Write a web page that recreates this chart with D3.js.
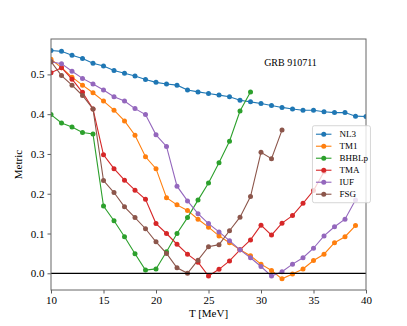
<!DOCTYPE html>
<html>
<head>
<meta charset="utf-8">
<script src="https://cdn.jsdelivr.net/npm/d3@7"></script>
<style>
    body { margin: 0; background: #fff; }
    svg { display: block; font-family: "Liberation Serif", "DejaVu Serif", serif; }
</style>
</head>
<body>
<div id="chart"></div>
<script>
const T_START = 10;
const xTicks = [10, 15, 20, 25, 30, 35, 40];
const yTicks = [0.0, 0.1, 0.2, 0.3, 0.4, 0.5];

const seriesNames = ["NL3", "TM1", "BHBLp", "TMA", "IUF", "FSG"];
const nl3 = [0.560, 0.558, 0.548, 0.540, 0.528, 0.521, 0.510, 0.503, 0.496, 0.487, 0.480, 0.476, 0.473, 0.461, 0.456, 0.452,
    0.448, 0.444, 0.435, 0.431, 0.427, 0.422, 0.417, 0.413, 0.410, 0.410, 0.406, 0.404, 0.404, 0.395, 0.394];
const tm1 = [0.538, 0.517, 0.493, 0.473, 0.454, 0.433, 0.410, 0.383, 0.347, 0.293, 0.263, 0.190, 0.172, 0.158, 0.136,
    0.116, 0.094, 0.077, 0.059, 0.044, 0.023, 0.007, -0.014, -0.002, 0.011, 0.032, 0.048, 0.077, 0.092, 0.120];
const bhblp = [0.399, 0.378, 0.368, 0.354, 0.350, 0.169, 0.132, 0.092, 0.049, 0.008, 0.011, 0.054, 0.100, 0.140, 0.184,
    0.227, 0.278, 0.332, 0.408, 0.456];
const tma = [0.504, 0.517, 0.488, 0.455, 0.413, 0.298, 0.263, 0.234, 0.209, 0.186, 0.125, 0.100, 0.073, 0.048, 0.028,
    -0.007, 0.010, 0.031, 0.059, 0.084, 0.121, 0.096, 0.126, 0.145, 0.176, 0.208, 0.255];
const iuf = [0.532, 0.527, 0.508, 0.490, 0.476, 0.461, 0.444, 0.433, 0.414, 0.399, 0.348, 0.319, 0.219, 0.182, 0.150,
    0.125, 0.104, 0.082, 0.059, 0.039, 0.017, -0.007, 0.004, 0.023, 0.039, 0.063, 0.094, 0.117, 0.136, 0.184];
const fsg = [0.532, 0.497, 0.473, 0.447, 0.413, 0.233, 0.203, 0.167, 0.140, 0.112, 0.079, 0.050, 0.014, 0.000, 0.033,
    0.067, 0.072, 0.107, 0.141, 0.193, 0.304, 0.288, 0.360];

const colors = ["#1f77b4", "#ff7f0e", "#2ca02c", "#d62728", "#9467bd", "#8c564b"];
const series = [nl3, tm1, bhblp, tma, iuf, fsg].map((values, i) => ({
    name: seriesNames[i],
    color: colors[i],
    points: values.map((v, j) => ({ t: T_START + j, v }))
}));

const width = 407, height = 326;
const margin = { top: 39, right: 41, bottom: 36, left: 51 };
const innerW = width - margin.left - margin.right;
const innerH = height - margin.top - margin.bottom;

const svg = d3.select("#chart").append("svg")
    .attr("width", width)
    .attr("height", height);

const g = svg.append("g").attr("transform", `translate(${margin.left},${margin.top})`);

const x = d3.scaleLinear().domain([10, 40]).range([0, innerW]);
const y = d3.scaleLinear().domain([-0.042, 0.589]).range([innerH, 0]);

// plot area clip so lines stay inside the frame
g.append("clipPath").attr("id", "clip")
    .append("rect").attr("width", innerW).attr("height", innerH);

const line = d3.line().x(d => x(d.t)).y(d => y(d.v));
const plot = g.append("g").attr("clip-path", "url(#clip)");

series.forEach(s => {
    const sg = plot.append("g");
    sg.append("path")
        .datum(s.points)
        .attr("fill", "none")
        .attr("stroke", s.color)
        .attr("stroke-width", 1.1)
        .attr("d", line);
    sg.selectAll("circle")
        .data(s.points)
        .join("circle")
        .attr("cx", d => x(d.t))
        .attr("cy", d => y(d.v))
        .attr("r", 2.5)
        .attr("fill", s.color);
});

// zero line
plot.append("line")
    .attr("x1", 0).attr("x2", innerW)
    .attr("y1", y(0)).attr("y2", y(0))
    .attr("stroke", "#000")
    .attr("stroke-width", 1.2);

// axes
const xAxis = g.append("g")
    .attr("transform", `translate(0,${innerH})`)
    .call(d3.axisBottom(x).tickValues(xTicks).tickSize(3.5).tickPadding(3).tickFormat(d3.format("d")));
const yAxis = g.append("g")
    .call(d3.axisLeft(y).tickValues(yTicks).tickSize(3.5).tickPadding(3).tickFormat(d3.format(".1f")));

[xAxis, yAxis].forEach(a => {
    a.select(".domain").remove();
    a.selectAll("line").attr("stroke", "#333").attr("stroke-width", 0.8);
    a.selectAll("text")
        .attr("fill", "#000")
        .style("font-family", "\"Liberation Serif\", serif")
        .style("font-size", "11px");
});

// frame
g.append("rect")
    .attr("x", 0).attr("y", 0)
    .attr("width", innerW).attr("height", innerH)
    .attr("fill", "none")
    .attr("stroke", "#666")
    .attr("stroke-width", 1);

// labels
svg.append("text")
    .attr("x", margin.left + innerW / 2)
    .attr("y", height - 9)
    .attr("text-anchor", "middle")
    .style("font-size", "11px")
    .text("T [MeV]");

svg.append("text")
    .attr("transform", `translate(22,${margin.top + innerH / 2}) rotate(-90)`)
    .attr("text-anchor", "middle")
    .style("font-size", "11px")
    .text("Metric");

g.append("text")
    .attr("x", x(30.3))
    .attr("y", y(0.52))
    .style("font-size", "10px")
    .text("GRB 910711");

// legend
const legend = g.append("g").attr("transform", `translate(${x(34.9)},${y(0.371)})`);
const rowH = 12;
legend.append("rect")
    .attr("width", 58)
    .attr("height", rowH * series.length + 5)
    .attr("rx", 2)
    .attr("fill", "#fff")
    .attr("fill-opacity", 0.8)
    .attr("stroke", "#ccc")
    .attr("stroke-width", 0.8);

series.forEach((s, i) => {
    const row = legend.append("g").attr("transform", `translate(0,${8.5 + i * rowH})`);
    row.append("line")
        .attr("x1", 3.5).attr("x2", 19)
        .attr("stroke", s.color)
        .attr("stroke-width", 1.1);
    row.append("circle")
        .attr("cx", 11.3)
        .attr("r", 2.5)
        .attr("fill", s.color);
    row.append("text")
        .attr("x", 27)
        .attr("dy", "0.33em")
        .style("font-size", "9px")
        .text(s.name);
});
</script>
</body>
</html>
